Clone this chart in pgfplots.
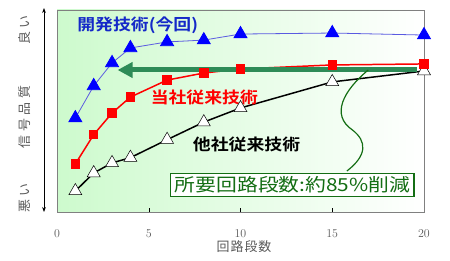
\documentclass[border=0pt]{standalone}
\usepackage{pgfplots}
\pgfplotsset{compat=1.18}
\usepackage{fontspec}
\usetikzlibrary{arrows.meta}
\setmainfont{Liberation Sans}
\newfontfamily\jp{Noto Sans CJK JP}
\newfontfamily\jpsp{Noto Sans CJK JP}[LetterSpace=30]
\newfontfamily\jpxl{Noto Sans CJK JP}[LetterSpace=8]
\newfontfamily\jpw{Noto Sans CJK JP}[FakeStretch=1.16]
\newfontfamily\jpb{Noto Sans CJK JP Bold}[FakeStretch=1.12]
\definecolor{bgreen}{RGB}{205,250,205}
\definecolor{arrgreen}{RGB}{46,139,87}
\definecolor{dgreen}{RGB}{20,110,20}
\definecolor{tblue}{RGB}{20,40,200}
\definecolor{lblue}{RGB}{90,90,225}
\definecolor{txtgray}{RGB}{90,90,90}
\begin{document}
\begin{tikzpicture}
\begin{axis}[
  scale only axis, width=367bp, height=202bp,
  at={(0,0)}, anchor=south west,
  xmin=0, xmax=20, ymin=0, ymax=100,
  xtick={0,5,10,15,20}, ytick=\empty,
  tick pos=bottom, tick align=inside, major tick length=4bp,
  axis line style={draw=gray},
  tick style={draw=black},
  xticklabel style={font=\jp\fontsize{12}{12}\selectfont, text=txtgray, yshift=-14bp},
  axis background/.style={left color=bgreen, right color=white},
  clip=false,
]
% other company conventional
\addplot[black, line width=1.5pt, mark=triangle*, mark size=7.5bp, mark options={fill=white, draw=black, line width=0.5pt}]
  coordinates {(1,10.4) (2,19.3) (3,24.3) (4,26.9) (6,35.8) (8,44.5) (10,51.5) (15,64.4) (20,69.8)};
% our conventional
\addplot[red, line width=1.5pt, mark=square*, mark size=4bp, mark options={fill=red, draw=red}]
  coordinates {(1,23.8) (2,38.3) (3,49.0) (4,56.9) (6,65.3) (8,68.8) (10,70.8) (15,72.8) (20,73.3)};
% green arrow
\draw[arrgreen, line width=5bp, -{Triangle[length=15bp,width=15bp]}] (axis cs:19.6,70.3) -- (axis cs:3.3,70.3);
% developed
\addplot[lblue, line width=0.8pt, mark=triangle*, mark size=7.5bp, mark options={fill=blue, draw=blue}]
  coordinates {(1,46.5) (2,62.4) (3,73.8) (4,81.2) (6,84.2) (8,85.1) (10,88.1) (15,88.6) (20,87.6)};
% callout curve
\draw[dgreen, line width=1.2pt] (axis cs:16.96,70.3) .. controls (axis cs:15.6,60) and (axis cs:14.9,48) .. (axis cs:16.1,40.6)
  .. controls (axis cs:16.9,35) and (axis cs:16.9,28) .. (axis cs:15.8,20.3);
\node[font=\jpb\fontsize{16}{16}\selectfont, text=tblue, anchor=west, inner sep=0pt] at (axis cs:1.1,92.6) {開発技術(今回)};
\node[font=\jpb\fontsize{16}{16}\selectfont, text=red, anchor=west, inner sep=0pt] at (axis cs:5.1,56.9) {当社従来技術};
\node[font=\jpb\fontsize{16}{16}\selectfont, text=black, anchor=west, inner sep=0pt] at (axis cs:7.4,33.2) {他社従来技術};
\node[font=\jpw\fontsize{18}{18}\selectfont, text=dgreen, draw=dgreen, line width=1.2pt, fill=white, inner xsep=4bp, inner ysep=3bp] at (axis cs:12.83,13.3) {所要回路段数:約85\%削減};
\end{axis}
\draw[black, line width=0.8pt, {Stealth[length=5bp]}-{Stealth[length=5bp]}] (-13bp,0bp) -- (-13bp,204bp);
\node[font=\jpsp\fontsize{13}{13}\selectfont, text=txtgray, rotate=90] at (-32bp,182bp) {良い};
\node[font=\jpsp\fontsize{13}{13}\selectfont, text=txtgray, rotate=90] at (-32bp,95bp) {信号品質};
\node[font=\jpsp\fontsize{13}{13}\selectfont, text=txtgray, rotate=90] at (-32bp,14bp) {悪い};
\node[font=\jpxl\fontsize{13}{13}\selectfont, text=txtgray] at (187bp,-35bp) {回路段数};
\pgfresetboundingbox
\path[use as bounding box] (-57bp,-49bp) rectangle (393bp,212bp);
\end{tikzpicture}
\end{document}
